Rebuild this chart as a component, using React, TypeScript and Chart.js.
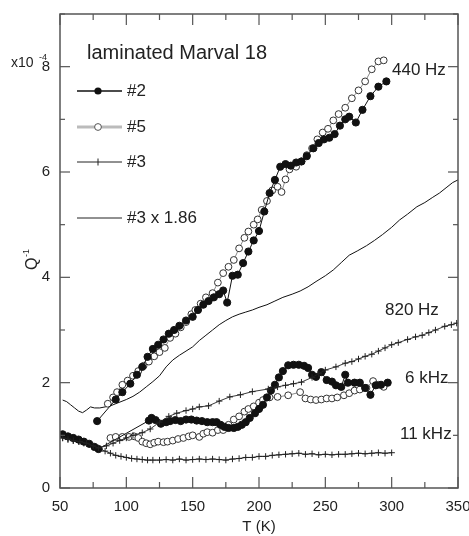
import React, { useEffect, useRef } from 'react';
import { Chart, registerables } from 'chart.js';
Chart.register(...registerables);

const FONT = '"Liberation Sans", Arial, Helvetica, sans-serif';

// axis ticks
const xMajor = [50, 100, 150, 200, 250, 300, 350];
const xMinor = [75, 125, 175, 225, 275, 325];
const yMajor = [0, 2, 4, 6, 8];
const yMinor = [1, 3, 5, 7, 9];

// 440 Hz, sample #2 (filled circles)
const t440s2 = [78, 92, 97, 103, 108, 112, 116, 120, 124, 128, 132, 136, 140, 145, 150, 154, 158, 162, 166, 170, 173, 176, 180, 184, 188, 192, 196, 200, 204, 208, 212, 216, 220, 224, 228, 232, 236, 241, 245, 249, 253, 257, 261, 265, 268, 273, 278, 284, 290, 296];
const q440s2 = [1.27, 1.68, 1.82, 1.98, 2.15, 2.3, 2.49, 2.64, 2.72, 2.82, 2.93, 3.0, 3.08, 3.18, 3.25, 3.38, 3.48, 3.55, 3.62, 3.68, 3.75, 3.52, 4.03, 4.05, 4.27, 4.49, 4.7, 4.88, 5.25, 5.6, 5.85, 6.1, 6.15, 6.12, 6.18, 6.2, 6.3, 6.45, 6.55, 6.62, 6.65, 6.72, 6.88, 7.0, 7.05, 6.94, 7.18, 7.44, 7.62, 7.72];

// 440 Hz, sample #5 (open circles)
const t440s5 = [86, 90, 93, 97, 101, 105, 109, 113, 117, 121, 125, 129, 133, 137, 141, 145, 149, 152, 156, 160, 165, 169, 173, 177, 181, 185, 189, 192, 196, 199, 202, 206, 210, 214, 217, 220, 223, 228, 232, 236, 240, 244, 248, 252, 256, 260, 265, 270, 275, 280, 285, 290, 294];
const q440s5 = [1.6, 1.72, 1.82, 1.96, 2.04, 2.13, 2.22, 2.32, 2.4, 2.5, 2.58, 2.66, 2.85, 2.93, 3.05, 3.15, 3.3, 3.38, 3.5, 3.62, 3.7, 3.9, 4.08, 4.2, 4.33, 4.55, 4.75, 4.87, 5.0, 5.1, 5.28, 5.45, 5.65, 5.72, 5.62, 5.86, 6.05, 6.1, 6.2, 6.32, 6.45, 6.62, 6.75, 6.82, 6.98, 7.1, 7.22, 7.4, 7.55, 7.72, 7.95, 8.1, 8.12];

// 440 Hz, sample #3 scaled by 1.86 (line)
const t440s3 = [52, 55, 58, 61, 64, 67, 70, 73, 76, 80, 84, 88, 92, 96, 100, 105, 110, 115, 120, 125, 130, 135, 140, 145, 150, 155, 160, 165, 170, 175, 180, 185, 190, 195, 200, 206, 212, 218, 225, 231, 237, 243, 250, 256, 262, 268, 274, 281, 287, 293, 300, 306, 312, 319, 325, 331, 336, 341, 346, 350];
const q440s3 = [1.67, 1.64, 1.58, 1.52, 1.46, 1.43, 1.48, 1.54, 1.52, 1.52, 1.54, 1.56, 1.6, 1.64, 1.68, 1.74, 1.82, 1.92, 2.02, 2.13, 2.3, 2.43, 2.52, 2.6, 2.68, 2.8, 2.9, 3.0, 3.1, 3.18, 3.25, 3.3, 3.34, 3.38, 3.43, 3.48, 3.55, 3.62, 3.68, 3.74, 3.82, 3.92, 4.03, 4.14, 4.28, 4.42, 4.5, 4.6, 4.7, 4.81, 4.95, 5.09, 5.2, 5.34, 5.42, 5.52, 5.6, 5.7, 5.8, 5.85];

// 820 Hz, sample #3 (plus)
const t820s3 = [52, 56, 60, 65, 70, 75, 79, 85, 90, 95, 100, 105, 112, 118, 125, 132, 138, 145, 150, 155, 162, 170, 178, 186, 195, 207, 214, 220, 226, 232, 240, 245, 250, 258, 265, 270, 275, 280, 285, 290, 295, 300, 305, 312, 318, 323, 328, 333, 340, 345, 349];
const q820s3 = [0.95, 0.93, 0.9, 0.88, 0.85, 0.8, 0.76, 0.8, 0.85, 0.9, 0.95, 1.0, 1.05, 1.12, 1.25, 1.36, 1.42, 1.47, 1.5, 1.54, 1.56, 1.65, 1.73, 1.77, 1.83, 1.88, 1.92, 1.95, 1.98, 2.01, 2.1, 2.17, 2.24, 2.3, 2.37, 2.4, 2.45, 2.5, 2.54, 2.6, 2.66, 2.72, 2.76, 2.82, 2.87, 2.9, 2.95, 3.0, 3.07, 3.1, 3.13];

// 6 kHz, sample #2 (filled circles)
const t6ks2 = [52, 56, 60, 64, 68, 72, 76, 79, 117, 119, 122, 126, 130, 133, 137, 141, 145, 149, 153, 157, 161, 165, 168, 171, 174, 177, 181, 184, 187, 190, 193, 197, 200, 203, 206, 209, 212, 215, 218, 222, 226, 230, 234, 237, 240, 243, 247, 251, 255, 258, 262, 265, 267, 272, 276, 280, 284, 288, 292, 297];
const q6ks2 = [1.02, 0.98, 0.95, 0.92, 0.88, 0.84, 0.78, 0.74, 1.28, 1.33, 1.29, 1.22, 1.25, 1.27, 1.29, 1.27, 1.3, 1.3, 1.28, 1.27, 1.25, 1.25, 1.25, 1.2, 1.16, 1.14, 1.14, 1.16, 1.2, 1.25, 1.33, 1.42, 1.5, 1.58, 1.72, 1.85, 1.96, 2.1, 2.22, 2.33, 2.34, 2.34, 2.32, 2.28, 2.15, 2.11, 2.2, 2.05, 2.02, 1.95, 1.92, 2.15, 2.0, 2.0, 2.0, 1.9, 1.77, 1.95, 1.96, 2.0];

// 6 kHz, sample #5 (open circles)
const t6ks5 = [88, 92, 97, 102, 106, 109, 112, 115, 118, 121, 124, 128, 131, 135, 139, 143, 147, 150, 155, 158, 161, 165, 169, 173, 177, 181, 185, 189, 192, 196, 200, 203, 208, 214, 222, 231, 235, 239, 243, 247, 251, 255, 259, 264, 268, 272, 276, 281, 286, 290, 294];
const q6ks5 = [0.95, 0.97, 0.97, 0.97, 0.98, 0.95, 0.88, 0.85, 0.83, 0.86, 0.88, 0.87, 0.88, 0.9, 0.93, 0.95, 0.98, 1.0, 0.97, 1.03, 1.06, 1.05, 1.1, 1.1, 1.2, 1.3, 1.36, 1.45, 1.5, 1.55, 1.62, 1.67, 1.72, 1.73, 1.76, 1.82, 1.7, 1.68, 1.67, 1.68, 1.7, 1.7, 1.72, 1.76, 1.8, 1.85, 1.87, 1.9, 2.03, 1.96, 1.92];

// 11 kHz, sample #3 (plus)
const t11ks3 = [52, 56, 60, 64, 68, 72, 76, 80, 84, 88, 92, 96, 100, 104, 108, 112, 116, 120, 125, 130, 135, 140, 145, 150, 155, 160, 165, 170, 175, 180, 185, 190, 195, 200, 205, 210, 215, 220, 225, 230, 235, 240, 245, 250, 255, 260, 265, 270, 275, 280, 285, 290, 295, 300];
const q11ks3 = [0.95, 0.92, 0.9, 0.88, 0.85, 0.82, 0.78, 0.74, 0.7, 0.66, 0.62, 0.6, 0.58, 0.56, 0.55, 0.54, 0.53, 0.53, 0.53, 0.54, 0.53, 0.55, 0.53, 0.54, 0.55, 0.54, 0.55, 0.54, 0.53, 0.55, 0.56, 0.58, 0.58, 0.6, 0.6, 0.62, 0.63, 0.64, 0.65, 0.66, 0.64, 0.65, 0.63, 0.64, 0.63, 0.64, 0.64, 0.65, 0.66, 0.65, 0.66, 0.67, 0.66, 0.67];

const pts = (ts: number[], qs: number[]) => ts.map((t, i) => ({ x: t, y: qs[i] }));

const filled = (ts: number[], qs: number[]) => ({
  data: pts(ts, qs), showLine: true, borderColor: '#111', borderWidth: 1,
  pointRadius: 3.6, pointBackgroundColor: '#111', pointBorderColor: '#111', pointBorderWidth: 1,
});
const open = (ts: number[], qs: number[]) => ({
  data: pts(ts, qs), showLine: true, borderColor: '#888', borderWidth: 1,
  pointRadius: 3.4, pointBackgroundColor: '#fff', pointBorderColor: '#333', pointBorderWidth: 1,
});
const plus = (ts: number[], qs: number[]) => ({
  data: pts(ts, qs), showLine: true, borderColor: '#222', borderWidth: 0.9,
  pointStyle: 'cross', pointRadius: 3.2, pointBorderColor: '#222', pointBorderWidth: 1,
});

const decorPlugin = {
  id: 'decor',
  afterDatasetsDraw(chart: any) {
    const { ctx, chartArea: a, scales } = chart;
    const x = scales.x, y = scales.y;
    ctx.save();
    ctx.strokeStyle = '#555';
    ctx.lineWidth = 1.5;
    ctx.strokeRect(a.left, a.top, a.right - a.left, a.bottom - a.top);
    ctx.lineWidth = 1.2;
    const seg = (x1: number, y1: number, x2: number, y2: number) => {
      ctx.beginPath(); ctx.moveTo(x1, y1); ctx.lineTo(x2, y2); ctx.stroke();
    };
    const xt = (v: number, len: number) => {
      const p = x.getPixelForValue(v);
      seg(p, a.bottom, p, a.bottom - len);
      seg(p, a.top, p, a.top + len);
    };
    const yt = (v: number, len: number) => {
      const p = y.getPixelForValue(v);
      seg(a.left, p, a.left + len, p);
      seg(a.right, p, a.right - len, p);
    };
    xMajor.forEach(v => xt(v, 11));
    xMinor.forEach(v => xt(v, 6));
    yMajor.forEach(v => yt(v, 10));
    yMinor.forEach(v => yt(v, 5));

    // texts
    ctx.fillStyle = '#222';
    ctx.textBaseline = 'middle';
    ctx.textAlign = 'left';
    ctx.font = `20px ${FONT}`;
    ctx.fillText('laminated Marval 18', 87, 53);
    ctx.font = `17px ${FONT}`;
    ctx.fillText('440 Hz', 392, 70);
    ctx.fillText('820 Hz', 385, 310);
    ctx.fillText('6 kHz', 405, 378);
    ctx.fillText('11 kHz', 400, 434);

    // legend
    const lx1 = 77, lx2 = 122, mx = 98;
    const rows = [91, 127, 162, 218];
    // #2
    ctx.strokeStyle = '#111'; ctx.lineWidth = 1.5;
    seg(lx1, rows[0], lx2, rows[0]);
    ctx.beginPath(); ctx.arc(mx, rows[0], 3.6, 0, Math.PI * 2); ctx.fillStyle = '#111'; ctx.fill();
    // #5
    ctx.strokeStyle = '#bbb'; ctx.lineWidth = 3;
    seg(lx1, rows[1], lx2, rows[1]);
    ctx.beginPath(); ctx.arc(mx, rows[1], 3.4, 0, Math.PI * 2); ctx.fillStyle = '#fff'; ctx.fill();
    ctx.strokeStyle = '#555'; ctx.lineWidth = 1; ctx.stroke();
    // #3
    ctx.strokeStyle = '#222'; ctx.lineWidth = 1;
    seg(lx1, rows[2], lx2, rows[2]);
    seg(mx, rows[2] - 3.5, mx, rows[2] + 3.5);
    // #3 x 1.86
    seg(lx1, rows[3], lx2, rows[3]);
    ctx.fillStyle = '#222';
    ctx.font = `17px ${FONT}`;
    ctx.fillText('#2', 127, rows[0]);
    ctx.fillText('#5', 127, rows[1]);
    ctx.fillText('#3', 127, rows[2]);
    ctx.fillText('#3 x 1.86', 127, rows[3]);

    // axis titles
    ctx.textAlign = 'center';
    ctx.font = `15px ${FONT}`;
    ctx.fillText('T (K)', (a.left + a.right) / 2, 527);
    // y title rotated
    ctx.save();
    ctx.translate(33, 264);
    ctx.rotate(-Math.PI / 2);
    ctx.textAlign = 'left';
    ctx.font = `16px ${FONT}`;
    ctx.fillText('Q', -6, 0);
    ctx.font = `9px ${FONT}`;
    ctx.fillText('-1', 7, -6);
    ctx.restore();
    // multiplier
    ctx.textAlign = 'left';
    ctx.textBaseline = 'alphabetic';
    ctx.font = `14px ${FONT}`;
    ctx.fillText('x10', 11, 67);
    ctx.font = `9px ${FONT}`;
    ctx.fillText('-4', 39, 60);
    ctx.restore();
  },
};

export default function App() {
  const ref = useRef<HTMLCanvasElement>(null);
  useEffect(() => {
    const chart = new Chart(ref.current as HTMLCanvasElement, {
      type: 'scatter',
      data: {
        datasets: [
          filled(t440s2, q440s2),
          open(t440s5, q440s5),
          { data: pts(t440s3, q440s3), showLine: true, borderColor: '#111', borderWidth: 1, pointRadius: 0 },
          plus(t820s3, q820s3),
          filled(t6ks2, q6ks2),
          open(t6ks5, q6ks5),
          plus(t11ks3, q11ks3),
        ] as any,
      },
      options: {
        animation: false,
        responsive: false,
        maintainAspectRatio: false,
        layout: { padding: { left: 0, top: 14, right: 11, bottom: 0 } },
        plugins: { legend: { display: false }, tooltip: { enabled: false } },
        scales: {
          x: {
            type: 'linear', min: 50, max: 350,
            grid: { display: false, drawTicks: false }, border: { display: false },
            ticks: { stepSize: 50, padding: 10, color: '#222', font: { family: FONT, size: 15 } },
            afterBuildTicks: (s: any) => { s.ticks = xMajor.map(v => ({ value: v })); },
            afterFit: (s: any) => { s.height = 48; s.paddingLeft = 0; s.paddingRight = 0; },
          },
          y: {
            type: 'linear', min: 0, max: 9,
            grid: { display: false, drawTicks: false }, border: { display: false },
            ticks: { stepSize: 2, padding: 10, color: '#222', font: { family: FONT, size: 15 } },
            afterBuildTicks: (s: any) => { s.ticks = yMajor.map(v => ({ value: v })); },
            afterFit: (s: any) => { s.width = 60; s.paddingTop = 0; s.paddingBottom = 0; },
          },
        },
      } as any,
      plugins: [decorPlugin],
    });
    return () => chart.destroy();
  }, []);
  return (
    <div style={{ position: 'fixed', left: 0, top: 0, width: 469, height: 536, background: '#fff' }}>
      <canvas ref={ref} width={469} height={536} style={{ width: 469, height: 536, display: 'block' }} />
    </div>
  );
}
